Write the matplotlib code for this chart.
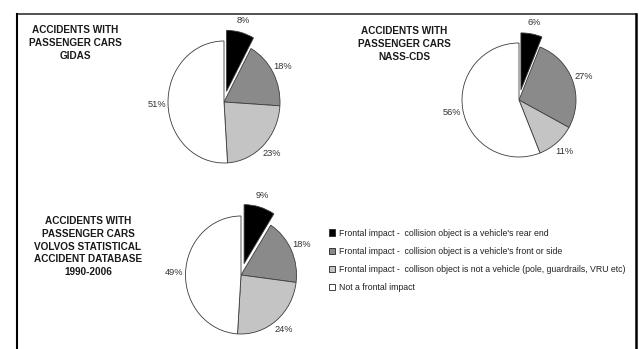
import matplotlib
matplotlib.use("Agg")
import matplotlib.pyplot as plt
from matplotlib.lines import Line2D

plt.rcParams['font.family'] = ['Liberation Sans', 'DejaVu Sans']

# ---- data ----
categories = [
    "Frontal impact -  collision object is a vehicle's rear end",
    "Frontal impact -  collision object is a vehicle's front or side",
    "Frontal impact -  collison object is not a vehicle (pole, guardrails, VRU etc)",
    "Not a frontal impact",
]
gidas_values = [8, 18, 23, 51]
nass_values = [6, 27, 11, 56]
volvo_values = [9, 18, 24, 49]
gidas_title = "ACCIDENTS WITH\nPASSENGER CARS\nGIDAS"
nass_title = "ACCIDENTS WITH\nPASSENGER CARS\nNASS-CDS"
volvo_title = "ACCIDENTS WITH\nPASSENGER CARS\nVOLVOS STATISTICAL\nACCIDENT DATABASE\n1990-2006"

colors = ["#000000", "#8a8a8a", "#c4c4c4", "#ffffff"]

W, H = 639, 349
fig = plt.figure(figsize=(W / 100, H / 100), dpi=100)
fig.patch.set_facecolor("white")


def fx(x):
    return x / W


def fy(y):
    return 1 - y / H


def draw_pie(values, cx, cy, rx, ry, explode_black):
    ax = fig.add_axes([fx(cx - rx), fy(cy + ry), 2 * rx / W, 2 * ry / H])
    wedges, texts = ax.pie(
        values,
        labels=[f"{v}%" for v in values],
        colors=colors,
        startangle=90,
        counterclock=False,
        explode=[explode_black, 0, 0, 0],
        labeldistance=1.2,
        wedgeprops=dict(edgecolor="#3c3c3c", linewidth=0.6),
        textprops=dict(fontsize=6.7, color="#333333"),
    )
    for t in texts:
        t.set_ha("center")
    ax.set_aspect("auto")
    ax.set_xlim(-1, 1)
    ax.set_ylim(-1, 1)
    ax.axis("off")
    for w in wedges:
        w.set_clip_on(False)
    return wedges


wedges = draw_pie(gidas_values, 224, 102, 56, 61, 0.18)
draw_pie(nass_values, 519, 100, 57, 57, 0.18)
draw_pie(volvo_values, 241, 275, 55.5, 59, 0.2)

# titles
fig.text(fx(75), fy(25), gidas_title, ha="center", va="top", fontsize=7.2,
         fontweight="bold", color="#1a1a1a", linespacing=1.35)
fig.text(fx(404), fy(26), nass_title, ha="center", va="top", fontsize=7.2,
         fontweight="bold", color="#1a1a1a", linespacing=1.35)
fig.text(fx(88), fy(216), volvo_title, ha="center", va="top", fontsize=7.2,
         fontweight="bold", color="#1a1a1a", linespacing=1.35)

# legend
handles = []
for w in wedges:
    handles.append(plt.Rectangle((0, 0), 1, 1, facecolor=w.get_facecolor(),
                                 edgecolor="#222222", linewidth=0.6))
fig.legend(handles, categories, loc="upper left",
           bbox_to_anchor=(fx(329), fy(228.5)), frameon=False,
           fontsize=6.3, handlelength=0.72, handleheight=0.72,
           handletextpad=0.45, labelspacing=1.05, borderpad=0, borderaxespad=0,
           labelcolor="#222222")

# frame
fig.add_artist(Line2D([fx(16.5), fx(635.5)], [fy(14), fy(14)], color="#222222", lw=1.1))
fig.add_artist(Line2D([fx(16.5), fx(16.5)], [fy(14), fy(355)], color="#000000", lw=1.5))
fig.add_artist(Line2D([fx(635.5), fx(635.5)], [fy(14), fy(355)], color="#000000", lw=1.8))

fig.savefig("out.png", dpi=100)
